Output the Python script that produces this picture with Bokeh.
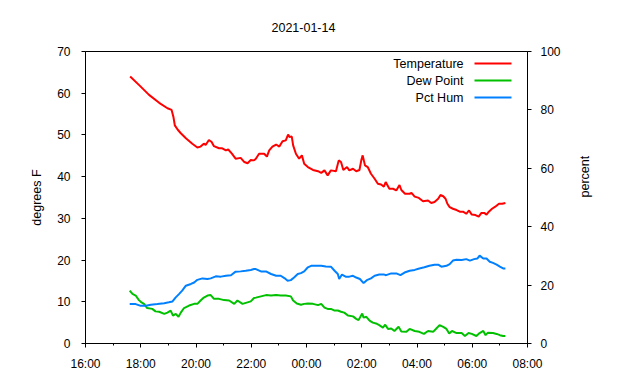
from math import pi
import pandas as pd
from bokeh.plotting import figure
from bokeh.models import (Range1d, LinearAxis, SingleIntervalTicker, DatetimeTickFormatter,
                          Label, BoxAnnotation, ColumnDataSource)
from bokeh.embed import file_html
from bokeh.resources import INLINE

TITLE = "2021-01-14"
DAY1 = "2021-01-14"
DAY2 = "2021-01-15"
X_START = "2021-01-14 16:00"
X_END = "2021-01-15 08:00"
series_names = ["Temperature", "Dew Point", "Pct Hum"]
series_colors = ["#ff0000", "#00c000", "#0080ff"]

temp_time = ["17:37", "17:56", "18:18", "18:40", "18:58", "19:07", "19:11", "19:14", "19:20", "19:27",
             "19:38", "19:52", "20:03", "20:10", "20:17", "20:21", "20:28", "20:34", "20:39", "20:50",
             "20:57", "21:05", "21:10", "21:18", "21:26", "21:37", "21:45", "21:52", "21:59", "22:06",
             "22:10", "22:17", "22:28", "22:34", "22:39", "22:46", "22:54", "23:01", "23:08", "23:15",
             "23:20", "23:23", "23:28", "23:31", "23:37", "23:44", "23:50", "23:55", "00:03", "00:14",
             "00:25", "00:32", "00:39", "00:46", "00:53", "01:04", "01:10", "01:15", "01:20", "01:28",
             "01:33", "01:41", "01:48", "01:55", "01:59", "02:02", "02:07", "02:13", "02:20", "02:28",
             "02:35", "02:42", "02:48", "02:52", "03:00", "03:08", "03:15", "03:22", "03:26", "03:34",
             "03:44", "03:48", "03:55", "04:04", "04:13", "04:24", "04:31", "04:38", "04:46", "04:51",
             "04:57", "05:02", "05:06", "05:11", "05:18", "05:26", "05:33", "05:40", "05:47", "05:53",
             "05:59", "06:07", "06:14", "06:20", "06:26", "06:31", "06:36", "06:43", "06:50", "06:58",
             "07:05", "07:12"]
temp_vals = [64.0, 62.0, 59.6, 57.7, 56.4, 56.0, 54.3, 52.3, 51.3, 50.4,
             49.2, 47.9, 47.0, 47.2, 47.9, 47.6, 48.8, 48.3, 47.3, 46.8,
             46.8, 46.3, 46.5, 45.5, 44.3, 44.5, 43.5, 43.2, 44.0, 43.9,
             44.3, 45.5, 45.5, 44.8, 46.3, 47.2, 47.7, 47.2, 48.5, 48.7,
             50.1, 49.5, 49.6, 47.5, 45.5, 44.3, 45.1, 43.1, 42.3, 41.6,
             41.3, 40.9, 41.5, 40.3, 41.5, 41.3, 43.9, 43.5, 41.6, 42.3,
             41.5, 41.9, 41.3, 41.6, 43.9, 45.1, 42.7, 42.3, 40.7, 39.5,
             38.3, 38.1, 37.6, 38.7, 37.1, 37.1, 36.7, 38.0, 36.8, 35.9,
             35.9, 36.1, 35.2, 34.9, 34.1, 34.3, 33.7, 33.9, 34.7, 35.6,
             35.3, 34.7, 33.5, 32.7, 32.3, 32.0, 31.6, 31.6, 31.1, 31.9,
             30.9, 30.8, 30.4, 31.3, 31.3, 30.9, 31.6, 32.3, 32.8, 33.5,
             33.5, 33.7]

dew_time = ["17:36", "17:42", "17:49", "17:56", "18:00", "18:07", "18:14", "18:25", "18:32", "18:40",
            "18:51", "18:58", "19:05", "19:10", "19:16", "19:22", "19:27", "19:34", "19:45", "19:56",
            "20:03", "20:10", "20:17", "20:25", "20:32", "20:39", "20:50", "21:01", "21:12", "21:23",
            "21:30", "21:41", "21:50", "21:59", "22:06", "22:10", "22:21", "22:32", "22:43", "22:54",
            "23:04", "23:15", "23:26", "23:31", "23:39", "23:48", "23:55", "00:03", "00:14", "00:25",
            "00:32", "00:39", "00:46", "00:53", "01:01", "01:08", "01:15", "01:22", "01:30", "01:41",
            "01:48", "01:53", "02:01", "02:04", "02:10", "02:17", "02:24", "02:31", "02:38", "02:46",
            "02:51", "02:57", "03:04", "03:11", "03:20", "03:26", "03:37", "03:44", "03:55", "04:05",
            "04:15", "04:24", "04:35", "04:42", "04:49", "04:57", "05:04", "05:10", "05:16", "05:26",
            "05:37", "05:44", "05:52", "05:59", "06:09", "06:16", "06:24", "06:29", "06:34", "06:45",
            "06:53", "07:00", "07:07", "07:12"]
dew_vals = [12.7, 11.9, 11.5, 10.4, 10.0, 9.5, 8.5, 8.3, 7.7, 7.6,
            7.1, 7.4, 7.9, 6.7, 7.1, 6.4, 7.4, 8.5, 9.1, 9.5,
            9.5, 10.3, 11.0, 11.5, 11.6, 10.7, 10.7, 10.4, 10.3, 9.5,
            10.3, 9.5, 9.8, 10.1, 10.9, 11.0, 11.3, 11.6, 11.5, 11.6,
            11.5, 11.5, 11.3, 10.3, 9.6, 9.3, 9.5, 9.6, 9.5, 9.2,
            9.5, 8.6, 8.3, 8.3, 7.9, 7.9, 7.6, 7.4, 6.7, 6.5,
            5.9, 5.6, 7.2, 6.2, 6.4, 5.5, 5.0, 4.8, 4.4, 3.8,
            4.5, 3.5, 3.6, 3.0, 4.0, 2.9, 2.8, 3.5, 3.0, 2.8,
            2.3, 3.0, 2.8, 3.6, 4.4, 4.0, 3.5, 2.4, 3.0, 2.5,
            2.5, 1.8, 2.5, 2.3, 1.8, 2.5, 3.0, 2.0, 2.6, 2.5,
            2.3, 2.0, 1.8, 1.8]

hum_time = ["17:36", "17:49", "18:00", "18:11", "18:22", "18:36", "18:51", "19:01", "19:09", "19:16",
            "19:23", "19:30", "19:38", "19:49", "19:56", "20:03", "20:14", "20:25", "20:32", "20:43",
            "20:54", "21:05", "21:16", "21:26", "21:37", "21:48", "21:59", "22:06", "22:10", "22:21",
            "22:32", "22:43", "22:54", "23:04", "23:12", "23:19", "23:26", "23:33", "23:41", "23:48",
            "23:55", "00:03", "00:10", "00:21", "00:32", "00:42", "00:53", "01:01", "01:08", "01:11",
            "01:17", "01:25", "01:33", "01:41", "01:48", "01:56", "02:04", "02:11", "02:20", "02:28",
            "02:38", "02:49", "02:53", "03:04", "03:15", "03:24", "03:33", "03:44", "03:55", "04:05",
            "04:16", "04:27", "04:38", "04:46", "04:53", "05:04", "05:11", "05:18", "05:26", "05:37",
            "05:47", "05:55", "06:04", "06:11", "06:16", "06:24", "06:31", "06:38", "06:45", "06:53",
            "07:00", "07:07", "07:12"]
hum_vals = [13.5, 13.5, 12.9, 12.9, 13.3, 13.5, 13.8, 14.1, 14.4, 15.8,
            16.9, 18.1, 19.8, 20.4, 20.9, 21.8, 22.3, 22.1, 22.3, 23.0,
            22.9, 23.2, 23.4, 24.6, 24.7, 24.9, 25.2, 25.5, 25.5, 24.7,
            24.7, 23.8, 23.2, 23.2, 22.4, 21.5, 21.7, 22.6, 23.8, 24.1,
            24.7, 26.1, 26.6, 26.6, 26.6, 26.4, 26.3, 24.9, 23.8, 22.1,
            23.6, 22.9, 22.9, 23.2, 22.6, 22.1, 20.7, 21.7, 22.3, 23.2,
            23.6, 23.6, 23.4, 24.0, 24.0, 23.4, 24.3, 24.9, 25.2, 25.7,
            26.1, 26.6, 27.0, 27.0, 26.3, 26.6, 27.2, 28.4, 28.7, 28.6,
            28.9, 28.4, 28.9, 29.1, 30.1, 29.1, 29.1, 28.0, 27.6, 27.0,
            26.3, 25.7, 25.7]


def to_dt(times):
    out = []
    for t in times:
        day = DAY1 if int(t[:2]) >= 12 else DAY2
        out.append(pd.Timestamp(f"{day} {t}").to_pydatetime())
    return out


FONT = "Liberation Sans"

p = figure(width=632, height=374, x_axis_type="datetime", output_backend="svg", toolbar_location=None,
           x_range=Range1d(pd.Timestamp(X_START).to_pydatetime(), pd.Timestamp(X_END).to_pydatetime()),
           y_range=Range1d(0, 70),
           min_border_left=85, min_border_right=105, min_border_top=51, min_border_bottom=31)
p.extra_y_ranges = {"pct": Range1d(0, 100)}
p.xgrid.visible = False
p.ygrid.visible = False
p.outline_line_color = "black"
p.outline_line_alpha = 1.0
p.background_fill_color = "white"
p.border_fill_color = "white"

p.title.text = TITLE
p.title.align = "left"
p.title.text_font = FONT
p.title.text_font_style = "normal"
p.title.text_font_size = "12.5px"
p.title.text_color = "black"
p.title.standoff = 40
p.title.offset = 186

src_t = ColumnDataSource(dict(x=to_dt(temp_time), y=temp_vals))
src_d = ColumnDataSource(dict(x=to_dt(dew_time), y=dew_vals))
src_h = ColumnDataSource(dict(x=to_dt(hum_time), y=hum_vals))
p.line("x", "y", source=src_t, line_color=series_colors[0], line_width=2)
p.line("x", "y", source=src_d, line_color=series_colors[1], line_width=2)
p.line("x", "y", source=src_h, line_color=series_colors[2], line_width=2, y_range_name="pct")

right_axis = LinearAxis(y_range_name="pct")
p.add_layout(right_axis, "right")


def style_axis(ax):
    ax.axis_line_color = "black"
    ax.major_tick_line_color = "black"
    ax.minor_tick_line_color = "black"
    ax.major_tick_in = 0
    ax.major_tick_out = 4
    ax.minor_tick_in = 0
    ax.minor_tick_out = 2
    ax.major_label_text_font = FONT
    ax.major_label_text_font_size = "12px"
    ax.major_label_text_color = "black"
    ax.axis_label_text_font = FONT
    ax.axis_label_text_font_size = "12.5px"
    ax.axis_label_text_font_style = "normal"
    ax.axis_label_text_color = "black"


xa = p.xaxis[0]
style_axis(xa)
xa.ticker = SingleIntervalTicker(interval=2 * 3600 * 1000, num_minor_ticks=2)
xa.formatter = DatetimeTickFormatter(hours="%H:%M", hourmin="%H:%M", days="%H:%M", minutes="%H:%M")
xa.major_label_standoff = 9

ya = p.yaxis[0]
style_axis(ya)
ya.ticker = SingleIntervalTicker(interval=10, num_minor_ticks=0)
ya.axis_label = "degrees F"
ya.major_label_standoff = 11
ya.axis_label_standoff = 10

style_axis(right_axis)
right_axis.ticker = SingleIntervalTicker(interval=20, num_minor_ticks=0)
right_axis.major_label_standoff = 9
right_axis.axis_label = "percent"
right_axis.axis_label_standoff = 21
try:
    right_axis.axis_label_orientation = pi / 2
except Exception:
    pass

# legend (gnuplot style: text then line sample)
legend_rows_y = [280, 263, 246]
for name, col, yy in zip(series_names, series_colors, legend_rows_y):
    p.add_layout(Label(x=378, y=yy, x_units="screen", y_units="screen", text=name,
                       text_align="right", text_baseline="middle", text_font=FONT,
                       text_font_size="12.5px", text_color="black"))
    p.add_layout(BoxAnnotation(left=389, right=426, bottom=yy - 1, top=yy + 1,
                               left_units="screen", right_units="screen",
                               top_units="screen", bottom_units="screen",
                               fill_color=col, fill_alpha=1.0, line_alpha=0))

open("out.html", "w").write(file_html(p, INLINE))
